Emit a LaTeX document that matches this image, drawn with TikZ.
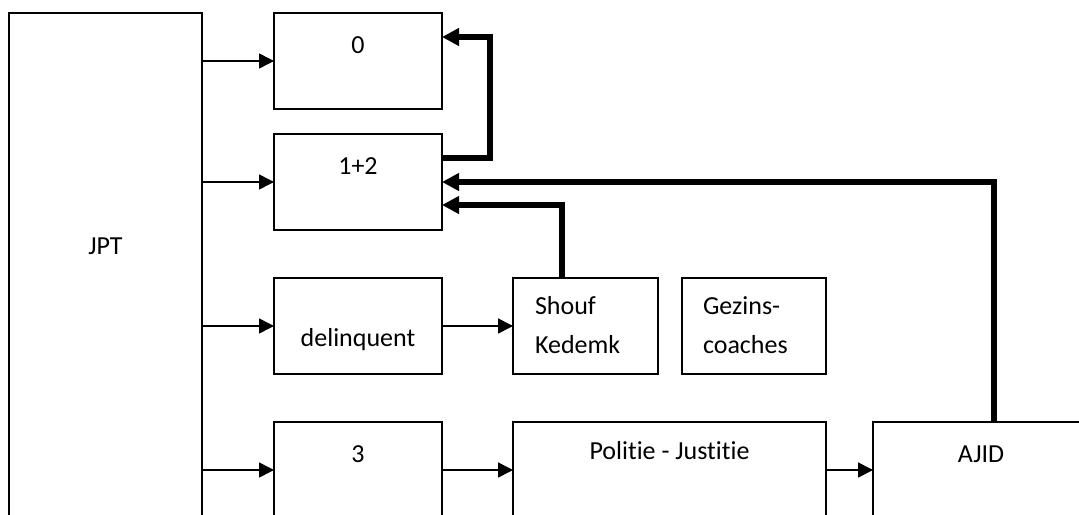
\documentclass[tikz,border=0pt]{standalone}
\usepackage{fontspec}
\setmainfont{Carlito}[Ligatures=NoCommon]
\usetikzlibrary{positioning, arrows.meta}
\tikzset{box/.style={ % Sets the properties for each box
draw, line width=1pt,
outer sep=0pt, inner sep=0pt,
minimum width=84pt,
text height=20pt, text depth=28pt}, % Puts the text near the top
every edge/.style={ % Thin arrows from box to box
draw, -{Triangle[length=7.5pt, width=7.5pt]},
line width=0.75pt},
back/.style={ % Thick arrows back to the top boxes
draw, -{Triangle[length=8.5pt, width=8.5pt]},
line width=3pt}}

\begin{document}
\begin{tikzpicture}[x=0.5pt, y=-0.5pt, font=\fontsize{13pt}{19.5pt}\selectfont]
    \useasboundingbox (0,0) rectangle (1079,514);
    \node[box, minimum width=96.5pt, text height=120.5pt, text depth=131.5pt, anchor=north west] (jpt) at (9,13) {JPT};
    \node[box, right=36pt of jpt.north east, anchor=north west] (zero) {0};
    \node[box, below=12.5pt of zero] (onetwo) {1+2};
    \node[box, below=24pt of onetwo, text height=34pt, text depth=14pt] (delinquent) {delinquent};
    \node[box, below=24pt of delinquent] (three) {3};
    \node[box, right=35.5pt of delinquent, minimum width=72.5pt, inner xsep=11pt, text height=18pt, text depth=30pt] (shouf) {\parbox[t]{50.5pt}{Shouf\\Kedemk}};
    \node[box, right=12pt of shouf, minimum width=72pt, inner xsep=10.5pt, text height=18pt, text depth=30pt] (gezins) {\parbox[t]{51pt}{Gezins-\\coaches}};
    \node[box, right=35.5pt of three, minimum width=156.5pt, text height=18.5pt, text depth=29.5pt] (politie) {Politie - Justitie};
    \node[box, right=23.5pt of politie, minimum width=108pt] (ajid) {AJID};
    \draw (zero -| jpt.east) edge (zero);
    \draw (onetwo -| jpt.east) edge (onetwo);
    \draw (delinquent -| jpt.east) edge (delinquent);
    \draw (three -| jpt.east) edge (three);
    \draw (delinquent) edge (shouf);
    \draw (three) edge (politie);
    \draw (politie) edge (ajid);
    \draw[back] ([yshift=12pt]onetwo.east) -- ++(48,0) |- ([yshift=12pt]zero.east);
    \draw[back] ([xshift=6.5pt]ajid.north) |- (onetwo.east);
    \draw[back] ([xshift=-11.75pt]shouf.north) |- ([yshift=-11.5pt]onetwo.east);
\end{tikzpicture}
\end{document}
